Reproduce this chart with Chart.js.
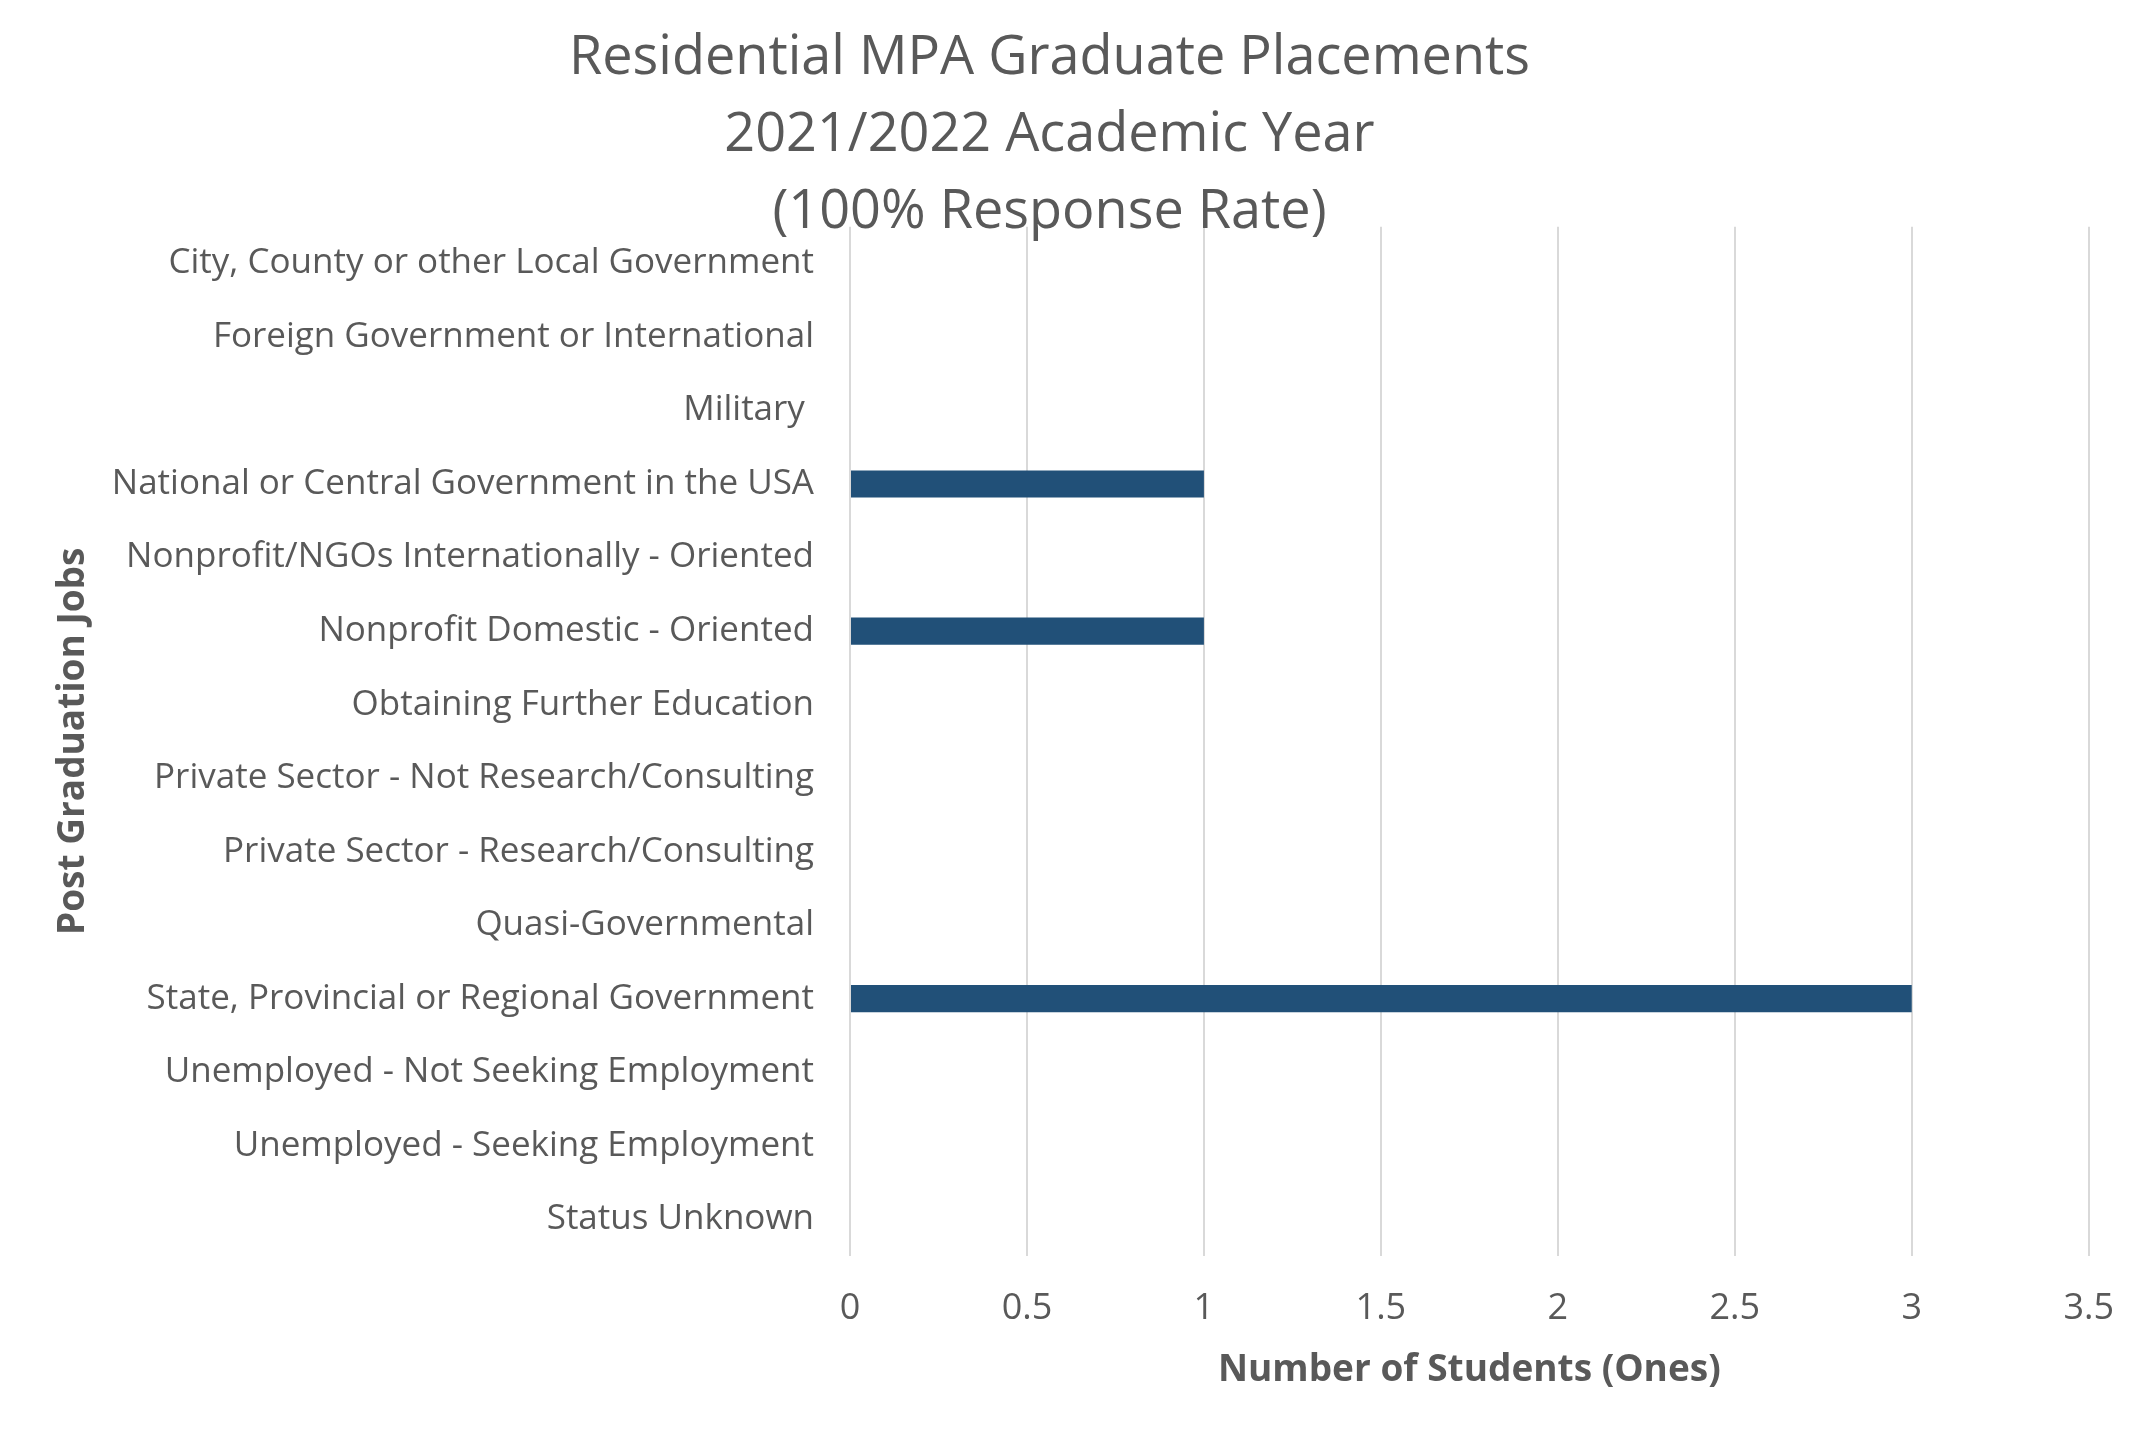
<!DOCTYPE html>
<html>
<head>
<meta charset="utf-8">
<script src="https://cdn.jsdelivr.net/npm/chart.js@4.4.1/dist/chart.umd.min.js"></script>
<style>
  html, body { margin: 0; padding: 0; background: #fff; }
  #wrap { width: 2145px; height: 1430px; position: relative; }
</style>
</head>
<body>
<div id="wrap"><canvas id="placementChart"></canvas></div>
<script>
// 카테고리 / 값
const jobLabels = [
  "City, County or other Local Government",
  "Foreign Government or International",
  "Military ",
  "National or Central Government in the USA",
  "Nonprofit/NGOs Internationally - Oriented",
  "Nonprofit Domestic - Oriented",
  "Obtaining Further Education",
  "Private Sector - Not Research/Consulting",
  "Private Sector - Research/Consulting",
  "Quasi-Governmental",
  "State, Provincial or Regional Government",
  "Unemployed - Not Seeking Employment",
  "Unemployed - Seeking Employment",
  "Status Unknown",
];
const studentCounts = [0, 0, 0, 1, 0, 1, 0, 0, 0, 0, 3, 0, 0, 0];
const xTicks = [0, 0.5, 1, 1.5, 2, 2.5, 3, 3.5];

const textColor = "#595959";
const fontFamily = "'Open Sans', 'Noto Sans', sans-serif";

const ctx = document.getElementById("placementChart");
const placementChart = new Chart(ctx, {
  type: "bar",
  data: {
    labels: jobLabels,
    datasets: [
      {
        data: studentCounts,
        backgroundColor: "#215078",
        borderWidth: 0,
        barPercentage: 0.37,
        categoryPercentage: 1,
      },
    ],
  },
  options: {
    indexAxis: "y",
    responsive: true,
    maintainAspectRatio: false,
    devicePixelRatio: 1,
    animation: { duration: 0 },
    layout: {
      padding: { left: 0, right: 46, top: 0, bottom: 0 },
    },
    plugins: {
      legend: { display: false },
      tooltip: { enabled: false },
      title: {
        display: true,
        text: ["Residential MPA Graduate Placements", "2021/2022 Academic Year", "(100% Response Rate)"],
        color: textColor,
        font: { family: fontFamily, size: 54, weight: "normal", lineHeight: 1.43 },
        padding: { top: 20, bottom: -25 },
      },
    },
    scales: {
      x: {
        min: 0,
        max: 3.5,
        afterBuildTicks: (scale) => {
          scale.ticks = xTicks.map((v) => ({ value: v }));
        },
        afterFit: (scale) => {
          scale.height = 174;
        },
        grid: {
          color: "#d9d9d9",
          lineWidth: 2,
          drawTicks: false,
        },
        border: { display: false },
        ticks: {
          color: textColor,
          padding: 31,
          font: { family: fontFamily, size: 36 },
          // 1.0 -> 1
          callback: (value) => String(value),
        },
        title: {
          display: true,
          text: "Number of Students (Ones)",
          color: textColor,
          font: { family: fontFamily, size: 37, weight: "bold", lineHeight: 1.2 },
          padding: { top: 0, bottom: 37 },
        },
      },
      y: {
        afterFit: (scale) => {
          scale.width = 850;
        },
        grid: { display: false, drawTicks: false },
        border: { display: false },
        ticks: {
          color: textColor,
          padding: 36,
          autoSkip: false,
          font: { family: fontFamily, size: 35 },
        },
        title: {
          display: true,
          text: "Post Graduation Jobs",
          color: textColor,
          font: { family: fontFamily, size: 37, weight: "bold", lineHeight: 1.2 },
          padding: { top: 51, bottom: 0 },
        },
      },
    },
  },
});
</script>
</body>
</html>
